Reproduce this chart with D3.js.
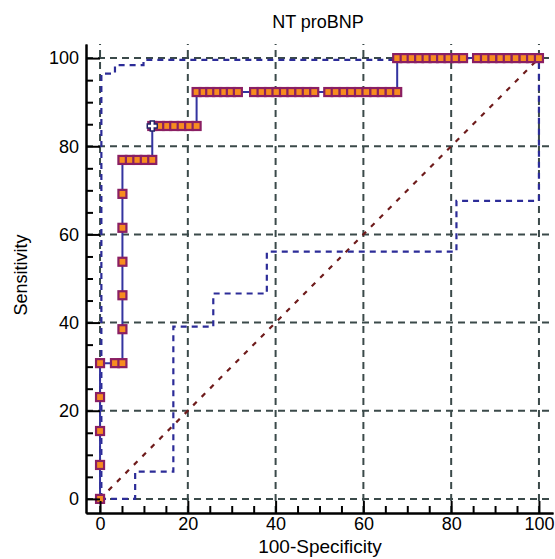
<!DOCTYPE html>
<html>
<head>
<meta charset="utf-8">
<script src="https://cdn.jsdelivr.net/npm/d3@7"></script>
<style>
  html, body { margin: 0; padding: 0; background: #fff; }
  svg { display: block; font-family: "Liberation Sans", Arial, sans-serif; }
</style>
</head>
<body>
<svg id="chart" width="555" height="559"></svg>
<script>
// --- Data ---
const TITLE = 'NT proBNP';
const X_LABEL = '100-Specificity';
const Y_LABEL = 'Sensitivity';
const MAJOR_TICKS = [0, 20, 40, 60, 80, 100];
const MINOR_TICKS = [5, 10, 15, 25, 30, 35, 45, 50, 55, 65, 70, 75, 85, 90, 95];

// ROC curve points [100-Specificity, Sensitivity]
const rocPoints = [
  [0, 0], [0, 7.7], [0, 15.4], [0, 23.1], [0, 30.8],
  [3.4, 30.8], [5.1, 30.8],
  [5.1, 38.5], [5.1, 46.2], [5.1, 53.8], [5.1, 61.5], [5.1, 69.2], [5.1, 76.9],
  [6.8, 76.9], [8.5, 76.9], [10.2, 76.9], [11.9, 76.9],
  [11.9, 84.6], [13.6, 84.6], [15.3, 84.6], [16.9, 84.6], [18.6, 84.6], [20.3, 84.6], [22.0, 84.6],
  [22.0, 92.3], [23.6, 92.3], [25.1, 92.3], [26.7, 92.3], [28.3, 92.3], [29.8, 92.3], [31.4, 92.3],
  [35.1, 92.3], [36.8, 92.3], [38.5, 92.3], [40.2, 92.3], [41.9, 92.3], [43.6, 92.3], [45.4, 92.3], [47.1, 92.3], [48.8, 92.3],
  [52.0, 92.3], [53.7, 92.3], [55.5, 92.3], [57.2, 92.3], [59.0, 92.3], [60.7, 92.3], [62.5, 92.3], [64.2, 92.3], [66.0, 92.3], [67.7, 92.3],
  [67.7, 100], [69.4, 100], [71.0, 100], [72.7, 100], [74.4, 100], [76.0, 100], [77.7, 100], [79.4, 100], [81.0, 100], [82.7, 100],
  [85.9, 100], [87.7, 100], [89.4, 100], [91.2, 100], [92.9, 100], [94.7, 100], [96.5, 100], [98.2, 100], [100, 100]
];

// Optimal criterion (white cross marker)
const optimalPoint = [11.9, 84.6];

// 95% confidence bounds
const upperBand = [
  [0.3, 0], [0.3, 96.5], [3.4, 96.5], [3.4, 98.4], [9.9, 98.4], [9.9, 99.6],
  [67.7, 99.6], [67.7, 100], [100, 100]
];
const lowerBand = [
  [0, 0], [8.0, 0], [8.0, 6.2], [16.7, 6.2], [16.7, 39.1], [25.8, 39.1],
  [25.8, 46.6], [38.0, 46.6], [38.0, 56.1], [81.2, 56.1], [81.2, 67.6],
  [100, 67.6], [100, 100]
];
const diagonal = [[0, 0], [100, 100]];

// --- Layout ---
const svg = d3.select('#chart');
const FONT = '"Liberation Sans", Arial, sans-serif';

const x = d3.scaleLinear().domain([-3.2, 103.2]).range([86, 553]);
const y = d3.scaleLinear().domain([-3.2, 103.2]).range([513, 44]);

// Grid
const GRID_COLOR = '#3b4a4a';
const grid = svg.append('g');
grid.selectAll('line.v').data(MAJOR_TICKS).join('line')
  .attr('x1', d => x(d)).attr('x2', d => x(d))
  .attr('y1', y.range()[0]).attr('y2', y.range()[1])
  .attr('stroke', GRID_COLOR).attr('stroke-width', 2)
  .attr('stroke-dasharray', '7,5');
grid.selectAll('line.h').data(MAJOR_TICKS).join('line')
  .attr('y1', d => y(d)).attr('y2', d => y(d))
  .attr('x1', x.range()[0]).attr('x2', x.range()[1])
  .attr('stroke', GRID_COLOR).attr('stroke-width', 2)
  .attr('stroke-dasharray', '7,5');

const line = d3.line().x(d => x(d[0])).y(d => y(d[1]));

// Diagonal reference
svg.append('path')
  .attr('d', line(diagonal))
  .attr('fill', 'none')
  .attr('stroke', '#6e1b1b')
  .attr('stroke-width', 2.2)
  .attr('stroke-dasharray', '5,7');

// Confidence bounds
[upperBand, lowerBand].forEach(band => {
  svg.append('path')
    .attr('d', line(band))
    .attr('fill', 'none')
    .attr('stroke', '#2c2c98')
    .attr('stroke-width', 2.2)
    .attr('stroke-dasharray', '6,5');
});

// ROC curve
svg.append('path')
  .attr('d', line(rocPoints))
  .attr('fill', 'none')
  .attr('stroke', '#3434a0')
  .attr('stroke-width', 2);

const SQ = 8;
svg.append('g').selectAll('rect').data(rocPoints).join('rect')
  .attr('x', d => x(d[0]) - SQ / 2)
  .attr('y', d => y(d[1]) - SQ / 2)
  .attr('width', SQ).attr('height', SQ)
  .attr('fill', '#f78c1f')
  .attr('stroke', '#8a1f63')
  .attr('stroke-width', 2.2);

// Optimal point cross
const ox = x(optimalPoint[0]), oy = y(optimalPoint[1]);
const c = 2, a = 5;
svg.append('path')
  .attr('d', `M${ox - c},${oy - a}H${ox + c}V${oy - c}H${ox + a}V${oy + c}H${ox + c}V${oy + a}H${ox - c}V${oy + c}H${ox - a}V${oy - c}H${ox - c}Z`)
  .attr('fill', '#fff')
  .attr('stroke', '#222266')
  .attr('stroke-width', 1.5);

// Axes
const yAxisMajor = d3.axisLeft(y).tickValues(MAJOR_TICKS).tickSize(-14).tickSizeOuter(0).tickPadding(7);
const yAxisMinor = d3.axisLeft(y).tickValues(MINOR_TICKS).tickSize(-7).tickSizeOuter(0).tickFormat('');
const xAxisMajor = d3.axisBottom(x).tickValues(MAJOR_TICKS).tickSize(-12).tickSizeOuter(0).tickPadding(4);
const xAxisMinor = d3.axisBottom(x).tickValues(MINOR_TICKS).tickSize(-7).tickSizeOuter(0).tickFormat('');

function styleAxis(g) {
  g.selectAll('path, line').attr('stroke', '#000').attr('stroke-width', 2);
  g.selectAll('text').attr('fill', '#000').attr('font-size', 18).attr('font-family', FONT);
}

svg.append('g').attr('transform', `translate(${x.range()[0]},0)`).call(yAxisMinor).call(styleAxis);
svg.append('g').attr('transform', `translate(${x.range()[0]},0)`).call(yAxisMajor).call(styleAxis);
svg.append('g').attr('transform', `translate(0,${y.range()[0]})`).call(xAxisMinor).call(styleAxis);
svg.append('g').attr('transform', `translate(0,${y.range()[0]})`).call(xAxisMajor).call(styleAxis);

// Titles
svg.append('text')
  .attr('x', 318).attr('y', 28)
  .attr('text-anchor', 'middle')
  .attr('font-size', 18).attr('font-family', FONT)
  .text(TITLE);

svg.append('text')
  .attr('x', 320).attr('y', 553)
  .attr('text-anchor', 'middle')
  .attr('font-size', 19).attr('font-family', FONT)
  .text(X_LABEL);

svg.append('text')
  .attr('transform', 'translate(27,275) rotate(-90)')
  .attr('text-anchor', 'middle')
  .attr('font-size', 18).attr('font-family', FONT)
  .text(Y_LABEL);
</script>
</body>
</html>
